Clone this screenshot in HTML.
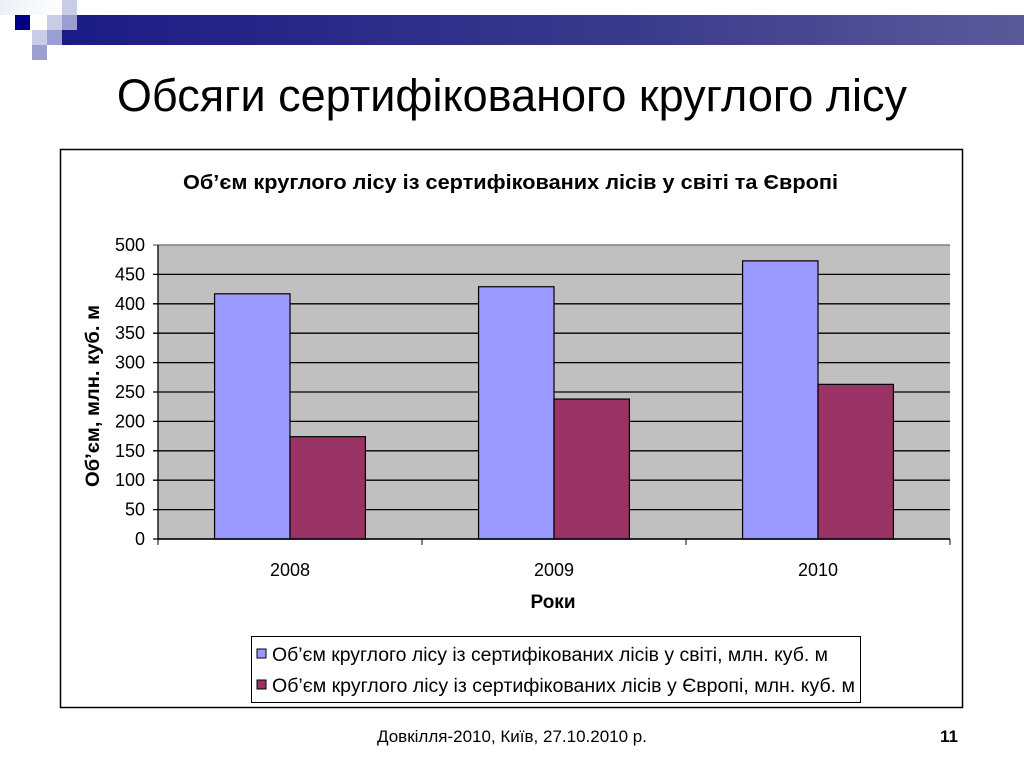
<!DOCTYPE html>
<html><head><meta charset="utf-8"><style>
body{margin:0;width:1024px;height:768px;background:#fff;position:relative;overflow:hidden;font-family:"Liberation Sans",sans-serif}
.a{position:absolute}
</style></head><body>
<div class="a" style="left:62px;top:15px;width:962px;height:30px;background:linear-gradient(90deg,#1b1b86,#3a3a8c 60%,#5a5a9a)"></div>
<div class="a" style="left:0;top:0;width:62px;height:15px;background:linear-gradient(90deg,#eef0f8,#fff)"></div>
<div class="a" style="left:62px;top:0;width:15px;height:15px;background:#c8cce4"></div>
<div class="a" style="left:15px;top:15px;width:15px;height:15px;background:#000080"></div>
<div class="a" style="left:47px;top:15px;width:15px;height:15px;background:#c8cce4"></div>
<div class="a" style="left:62px;top:15px;width:15px;height:15px;background:#9a9ed0"></div>
<div class="a" style="left:32px;top:30px;width:15px;height:15px;background:#c8cce4"></div>
<div class="a" style="left:47px;top:30px;width:15px;height:15px;background:#9a9ed0"></div>
<div class="a" style="left:32px;top:45px;width:15px;height:15px;background:#9a9ed0"></div>
<div class="a" style="left:0;width:1024px;top:70px;text-align:center;font-size:45px;color:#000">Обсяги сертифікованого круглого лісу</div>
<svg class="a" style="left:0;top:0" width="1024" height="768">
<rect x="60.5" y="149.5" width="902" height="558" fill="#fff" stroke="#000" stroke-width="1.5"/>
<text x="183" y="189" textLength="655" lengthAdjust="spacingAndGlyphs" font-size="20" font-weight="bold" font-family="Liberation Sans">Об’єм круглого лісу із сертифікованих лісів у світі та Європі</text>
<g id="plot"></g>
<text transform="translate(99,396) rotate(-90)" text-anchor="middle" font-size="19" font-weight="bold" font-family="Liberation Sans" textLength="182" lengthAdjust="spacingAndGlyphs">Об’єм, млн. куб. м</text>
<text x="553" y="608" text-anchor="middle" font-size="19" font-weight="bold" font-family="Liberation Sans">Роки</text>
<g>
<rect x="251.5" y="636.5" width="609" height="66" fill="#fff" stroke="#000"/>
<rect x="257" y="649" width="9" height="9" fill="#9999ff" stroke="#000"/>
<text x="272" y="661" font-size="19" textLength="556" lengthAdjust="spacingAndGlyphs" font-family="Liberation Sans">Об’єм круглого лісу із сертифікованих лісів у світі, млн. куб. м</text>
<rect x="257" y="680" width="9" height="9" fill="#993366" stroke="#000"/>
<text x="272" y="692" font-size="19" textLength="583" lengthAdjust="spacingAndGlyphs" font-family="Liberation Sans">Об’єм круглого лісу із сертифікованих лісів у Європі, млн. куб. м</text>
</g>
</svg>
<div class="a" style="left:0;width:1024px;top:727px;text-align:center;font-size:17px">Довкілля-2010, Київ, 27.10.2010 р.</div>
<div class="a" style="left:940px;top:727px;font-size:17px;font-weight:bold">11</div>
<script>
const categories=["2008","2009","2010"];
const worldValues=[417,429,473];
const europeValues=[174,238,263];
const yTicks=[0,50,100,150,200,250,300,350,400,450,500];
const NS="http://www.w3.org/2000/svg";
const g=document.getElementById('plot');
const L=158,R=950,T=245,B=539,yMax=500;
const y=v=>B-(v/yMax)*(B-T);
const cw=(R-L)/categories.length;
const bw=cw*0.2857;
function mk(t,a){const e=document.createElementNS(NS,t);for(const k in a)e.setAttribute(k,a[k]);g.appendChild(e);return e;}
const bg=mk('rect',{x:L,y:T,width:R-L,height:B-T,fill:'#c0c0c0'});


yTicks.forEach(t=>{
 const ln=mk('line',{x1:L-5,x2:R,y1:y(t),y2:y(t),stroke:t===yMax?'#808080':'#000','stroke-width':t===yMax?1.5:1.3});
 
 
 const tx=mk('text',{x:L-13,y:y(t)+6,'text-anchor':'end','font-size':18,'font-family':'Liberation Sans'});
 tx.textContent=t;
 
 
});
const ax=mk('line',{x1:L,x2:L,y1:T,y2:B,stroke:'#000','stroke-width':1.3});


categories.forEach((c,i)=>{
 const x0=L+i*cw, gs=x0+(cw-2*bw)/2;
 [[worldValues,'#9999ff','bar-world-'],[europeValues,'#993366','bar-europe-']].forEach((s,j)=>{
  const v=s[0][i];
  const r=mk('rect',{x:gs+j*bw,y:y(v),width:bw,height:B-y(v),fill:s[1],stroke:'#000','stroke-width':1.2});
  
  
 });
 const tx=mk('text',{x:x0+cw/2,y:576,'text-anchor':'middle','font-size':18,'font-family':'Liberation Sans'});
 tx.textContent=c;
 
 
 const tk=mk('line',{x1:x0,x2:x0,y1:B,y2:B+6,stroke:'#000'});
 
 
});
const tk=mk('line',{x1:R,x2:R,y1:B,y2:B+6,stroke:'#000'});


const xa=mk('line',{x1:L,x2:R,y1:B,y2:B,stroke:'#000','stroke-width':1.5});


</script>
</body></html>
